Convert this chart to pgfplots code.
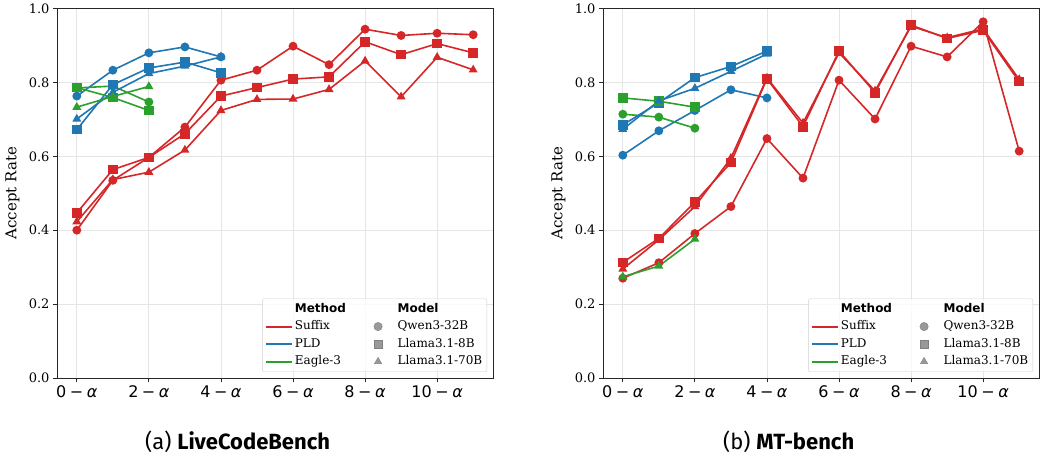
\documentclass[border=0pt]{standalone}
\usepackage{fontspec}
\setmainfont{DejaVu Serif}
\newfontfamily\djsans{DejaVu Sans}
\newfontfamily\capfont{Fira Sans}
\usepackage{pgfplots}
\usepackage{pgfplotstable}
\pgfplotsset{compat=1.18}

\definecolor{tabred}{HTML}{D62728}
\definecolor{tabblue}{HTML}{1F77B4}
\definecolor{tabgreen}{HTML}{2CA02C}
\definecolor{mgray}{HTML}{808080}

% LiveCodeBench
\pgfplotstableread{
x  q     l8    l70
0  0.400 0.447 0.423
1  0.535 0.564 0.537
2  0.597 0.597 0.557
3  0.679 0.661 0.617
4  0.806 0.763 0.724
5  0.833 0.786 0.754
6  0.898 0.809 0.755
7  0.848 0.815 0.781
8  0.944 0.910 0.858
9  0.927 0.875 0.761
10 0.933 0.905 0.868
11 0.929 0.880 0.834
}\lcbsuffix
\pgfplotstableread{
x  q     l8    l70
0  0.763 0.672 0.701
1  0.833 0.794 0.773
2  0.880 0.839 0.824
3  0.896 0.855 0.844
4  0.869 0.826 0.869
}\lcbpld
\pgfplotstableread{
x  q     l8    l70
0  0.785 0.786 0.733
1  0.790 0.759 0.762
2  0.747 0.724 0.789
}\lcbeagle

% MT-bench
\pgfplotstableread{
x  q     l8    l70
0  0.270 0.313 0.295
1  0.312 0.378 0.374
2  0.391 0.476 0.464
3  0.464 0.583 0.595
4  0.648 0.810 0.812
5  0.541 0.680 0.690
6  0.806 0.885 0.880
7  0.701 0.772 0.777
8  0.898 0.955 0.952
9  0.869 0.919 0.921
10 0.964 0.941 0.945
11 0.614 0.802 0.808
}\mtsuffix
\pgfplotstableread{
x  q     l8    l70
0  0.603 0.685 0.673
1  0.669 0.745 0.750
2  0.724 0.813 0.784
3  0.780 0.843 0.830
4  0.758 0.885 0.877
}\mtpld
\pgfplotstableread{
x  q     l8    l70
0  0.714 0.758 0.274
1  0.706 0.749 0.303
2  0.676 0.733 0.376
}\mteagle

\newcommand\xl[1]{{\djsans #1\hspace{0.22em}−\hspace{0.22em}\itshape α}}

\pgfplotsset{
  suf/.style={color=tabred, line width=1.6bp, mark options={solid}},
  pld/.style={color=tabblue, line width=1.6bp, mark options={solid}},
  eag/.style={color=tabgreen, line width=1.6bp, mark options={solid}},
  mq/.style={mark=*, mark size=3.6bp},
  ml8/.style={mark=square*, mark size=4bp},
  ml70/.style={mark=triangle*, mark size=3.6bp},
  legline/.style={legend image code/.code={\draw[##1, line width=2bp] (0bp,0bp) -- (26bp,0bp);}},
  legmark/.style={only marks, color=mgray, mark size=4.2bp,
    legend image code/.code={\path[draw=none, fill=none] (0bp,0bp) rectangle (22.5bp,0bp);
      \draw[##1] plot coordinates {(4.5bp,0bp)};}},
  panel/.style={
    scale only axis, width=436bp, height=369.5bp,
    xmin=-0.55, xmax=11.55, ymin=0, ymax=1,
    xtick={0,2,4,6,8,10},
    xticklabels={\xl{0},\xl{2},\xl{4},\xl{6},\xl{8},\xl{10}},
    ytick={0,0.2,0.4,0.6,0.8,1},
    yticklabel style={/pgf/number format/fixed, /pgf/number format/fixed zerofill,
      /pgf/number format/precision=1, /pgf/number format/assume math mode=true,
      font=\fontsize{13bp}{15bp}\selectfont},
    x tick label style={font=\fontsize{16bp}{18bp}\selectfont},
    tick align=outside, tick pos=left, major tick length=4bp,
    axis line style={black!85, line width=0.9bp},
    tick style={black!85, line width=0.9bp},
    grid=major, major grid style={black!10, line width=0.9bp},
    ylabel={Accept Rate},
    every axis y label/.style={at={(rel axis cs:-0.102,0.5)}, anchor=center, rotate=90,
      font=\fontsize{15bp}{18bp}\selectfont},
    legend columns=2, legend cell align=left,
    legend style={
      at={(rel axis cs:1,0)}, anchor=south east, xshift=-6bp, yshift=6bp,
      draw=black!18, rounded corners=2bp, fill=white, fill opacity=0.8, text opacity=1,
      font=\fontsize{12bp}{14bp}\selectfont, inner sep=3bp,
      row sep=3bp,
      nodes={inner sep=1.5bp, text height=9bp, text depth=2.5bp},
      /tikz/every even column/.append style={column sep=26bp},
    },
  },
}

\newcommand\legendblock{%
  \addlegendimage{empty legend}\addlegendentry{\djsans\bfseries Method}
  \addlegendimage{empty legend}\addlegendentry{\djsans\bfseries Model}
  \addlegendimage{legline, tabred}\addlegendentry{Suffix}
  \addlegendimage{legmark, mark=*}\addlegendentry{Qwen3-32B}
  \addlegendimage{legline, tabblue}\addlegendentry{PLD}
  \addlegendimage{legmark, mark=square*}\addlegendentry{Llama3.1-8B}
  \addlegendimage{legline, tabgreen}\addlegendentry{Eagle-3}
  \addlegendimage{legmark, mark=triangle*}\addlegendentry{Llama3.1-70B}
}

\newcommand\panelplots[3]{%
  \addplot[suf, mq, forget plot] table[x=x, y=q] {#1};
  \addplot[pld, mq, forget plot] table[x=x, y=q] {#2};
  \addplot[eag, mq, forget plot] table[x=x, y=q] {#3};
  \addplot[suf, ml8, forget plot] table[x=x, y=l8] {#1};
  \addplot[pld, ml8, forget plot] table[x=x, y=l8] {#2};
  \addplot[eag, ml8, forget plot] table[x=x, y=l8] {#3};
  \addplot[suf, ml70, forget plot] table[x=x, y=l70] {#1};
  \addplot[pld, ml70, forget plot] table[x=x, y=l70] {#2};
  \addplot[eag, ml70, forget plot] table[x=x, y=l70] {#3};
}

\begin{document}
\begin{tikzpicture}
\useasboundingbox (0,0) rectangle (1043bp,458bp);

\begin{axis}[panel, at={(57bp,80bp)}, anchor=south west]
\panelplots{\lcbsuffix}{\lcbpld}{\lcbeagle}
\legendblock
\end{axis}

\begin{axis}[panel, at={(603bp,80bp)}, anchor=south west]
\panelplots{\mtsuffix}{\mtpld}{\mteagle}
\legendblock
\end{axis}

\node[anchor=base west, inner sep=0pt, font=\capfont\fontsize{22bp}{26bp}\selectfont] at (145bp,9bp) {(a) \textbf{LiveCodeBench}};
\node[anchor=base west, inner sep=0pt, font=\capfont\fontsize{22bp}{26bp}\selectfont] at (723bp,9bp) {(b) \textbf{MT-bench}};
\end{tikzpicture}
\end{document}
